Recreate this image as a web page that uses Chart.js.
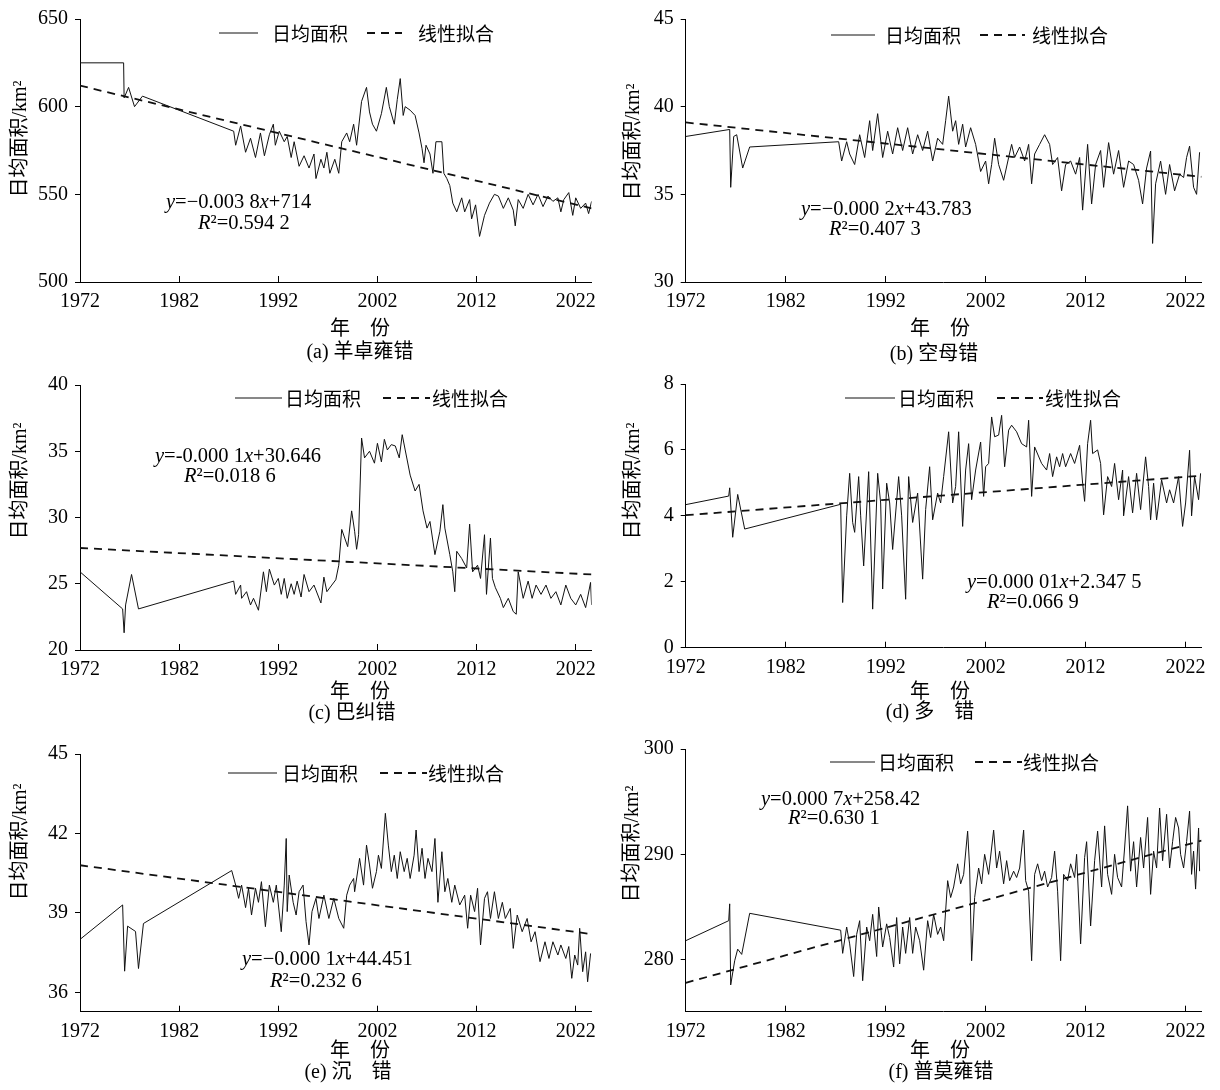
<!DOCTYPE html>
<html>
<head>
<meta charset="utf-8">
<script src="https://cdn.jsdelivr.net/npm/chart.js@4.4.1/dist/chart.umd.min.js"></script>
<style>
  body { margin: 0; background: #fff; width: 1220px; height: 1090px; position: relative; overflow: hidden; }
  canvas { position: absolute; }
</style>
</head>
<body>
<canvas id="ca" width="610" height="365" style="left:0;top:0"></canvas>
<canvas id="cb" width="610" height="365" style="left:610px;top:0"></canvas>
<canvas id="cc" width="610" height="365" style="left:0;top:365px"></canvas>
<canvas id="cd" width="610" height="365" style="left:610px;top:365px"></canvas>
<canvas id="ce" width="610" height="360" style="left:0;top:730px"></canvas>
<canvas id="cf" width="610" height="360" style="left:610px;top:730px"></canvas>
<script>
  const xTickYears = [1972, 1982, 1992, 2002, 2012, 2022]
  const fitYears = [1972, 2023.6]

  // (a) 羊卓雍错
  const yearsA = [1972.0, 1976.4, 1976.45, 1976.9, 1977.5, 1978.3, 1987.5,
    1987.7, 1988.2, 1988.7, 1989.2, 1989.7, 1990.2, 1990.6, 1991.1, 1991.5, 1991.7, 1992.1, 1992.6, 1992.9,
    1993.3, 1993.6, 1994.1, 1994.6, 1995.1, 1995.6, 1995.8, 1996.3, 1996.6, 1996.9, 1997.2, 1997.7, 1998.1,
    1998.4, 1998.9, 1999.2, 1999.6, 1999.9, 2000.4, 2000.9, 2001.2, 2001.5, 2001.9, 2002.4, 2002.9, 2003.2,
    2003.7, 2004.0, 2004.3, 2004.6, 2004.8, 2005.3, 2005.8, 2006.2, 2006.5, 2006.7, 2006.9, 2007.3, 2007.6,
    2007.9, 2008.5, 2008.7, 2009.0, 2009.3, 2009.6, 2010.0, 2010.5, 2010.8, 2011.3, 2011.5, 2011.9, 2012.3,
    2012.8, 2013.3, 2013.8, 2014.2, 2014.7, 2015.2, 2015.7, 2015.9, 2016.2, 2016.7, 2017.2, 2017.7, 2018.2,
    2018.7, 2019.2, 2019.7, 2020.2, 2020.5, 2020.8, 2021.3, 2021.7, 2022.0, 2022.5, 2023.0, 2023.3, 2023.6]
  const areaA = [625, 625, 605, 611, 600, 606, 586,
    578, 589, 574, 582, 571, 585, 572, 584, 590, 578, 586, 580, 583,
    571, 580, 566, 572, 565, 573, 559, 570, 565, 574, 562, 570, 562,
    580, 585, 580, 590, 578, 603, 611, 597, 590, 586, 596, 611, 600,
    590, 604, 616, 595, 600, 598, 595, 585, 576, 568, 578, 573, 562,
    580, 580, 562, 559, 555, 545, 540, 548, 540, 547, 536, 544, 526,
    538, 545, 550, 549, 542, 548, 541, 532, 547, 542, 550, 544, 550,
    543, 549, 546, 548, 540, 547, 551, 538, 548, 542, 545, 539, 546]
  const fitA = [612, 542]
  const yTicksA = [500, 550, 600, 650]

  // (b) 空母错
  const yearsB = [1972.0, 1976.4, 1976.5, 1976.8, 1977.1, 1977.7, 1978.4, 1987.3,
    1987.6, 1988.1, 1988.4, 1988.9, 1989.4, 1989.9, 1990.4, 1990.7, 1991.2, 1991.7, 1992.2, 1992.7, 1993.2,
    1993.7, 1994.2, 1994.7, 1995.2, 1995.7, 1996.2, 1996.7, 1997.2, 1997.7, 1998.0, 1998.3, 1998.7, 1999.0,
    1999.3, 1999.7, 2000.0, 2000.5, 2001.0, 2001.5, 2002.0, 2002.3, 2002.6, 2002.9, 2003.3, 2003.8, 2004.3,
    2004.6, 2004.9, 2005.4, 2005.9, 2006.3, 2006.6, 2006.9, 2007.4, 2007.9, 2008.4, 2008.7, 2009.2, 2009.6,
    2010.0, 2010.5, 2011.0, 2011.4, 2011.7, 2012.2, 2012.6, 2013.0, 2013.5, 2013.8, 2014.3, 2014.8, 2015.3,
    2015.8, 2016.3, 2016.8, 2017.3, 2017.7, 2018.1, 2018.5, 2018.7, 2019.0, 2019.5, 2020.0, 2020.4, 2020.9,
    2021.4, 2021.8, 2022.1, 2022.4, 2022.8, 2023.1, 2023.4]
  const areaB = [38.3, 38.7, 35.4, 38.3, 38.4, 36.5, 37.7, 38.0,
    36.9, 38.0, 37.3, 36.7, 38.4, 37.1, 39.2, 37.5, 39.6, 37.1, 38.6, 37.3, 38.8,
    37.5, 38.8, 37.3, 38.4, 37.5, 38.6, 36.9, 38.2, 37.85, 39.2, 40.6, 38.6, 39.2,
    37.85, 39.0, 37.7, 38.8, 37.85, 36.3, 36.9, 35.6, 36.7, 38.2, 36.7, 35.8, 37.1,
    37.85, 37.1, 37.7, 36.9, 37.85, 35.6, 37.3, 37.85, 38.4, 37.85, 36.7, 37.1, 35.2,
    36.7, 36.9, 36.15, 37.1, 34.1, 37.85, 34.45, 36.7, 37.5, 35.4, 37.95, 36.15, 37.5,
    35.4, 36.9, 36.7, 35.8, 34.45, 36.5, 37.47, 32.2, 35.6, 36.9, 35.0, 36.7, 35.2,
    36.15, 35.96, 37.1, 37.75, 35.4, 35.0, 37.4]
  const fitB = [39.1, 36.0]
  const yTicksB = [30, 35, 40, 45]

  // (c) 巴纠错
  const yearsC = [1972.0, 1976.3, 1976.45, 1976.6, 1977.2, 1977.9, 1987.5,
    1987.7, 1988.2, 1988.3, 1988.8, 1989.2, 1989.5, 1990.0, 1990.5, 1990.8, 1991.1, 1991.6, 1992.0, 1992.3,
    1992.6, 1992.9, 1993.3, 1993.6, 1993.9, 1994.3, 1994.6, 1995.1, 1995.6, 1996.3, 1996.6, 1996.9, 1997.4,
    1997.8, 1998.1, 1998.4, 1998.7, 1999.0, 1999.4, 1999.7, 1999.9, 2000.1, 2000.4, 2000.7, 2001.2, 2001.7,
    2002.0, 2002.4, 2002.7, 2003.0, 2003.4, 2003.8, 2004.2, 2004.5, 2004.8, 2005.3, 2005.8, 2006.2, 2006.6,
    2007.0, 2007.3, 2007.8, 2008.3, 2008.6, 2008.8, 2009.3, 2009.6, 2009.8, 2010.0, 2010.5, 2011.0, 2011.3,
    2011.6, 2012.1, 2012.4, 2012.8, 2013.0, 2013.4, 2013.6, 2013.9, 2014.4, 2014.7, 2015.2, 2015.7, 2016.0,
    2016.2, 2016.7, 2017.2, 2017.6, 2018.0, 2018.5, 2019.0, 2019.5, 2020.0, 2020.5, 2021.0, 2021.5, 2022.0,
    2022.5, 2023.0, 2023.5, 2023.6]
  const areaC = [25.9, 23.1, 21.3, 23.4, 25.7, 23.1, 25.2,
    24.2, 24.9, 23.9, 24.4, 23.4, 23.9, 23.0, 25.9, 24.4, 26.1, 24.9, 25.4, 24.2,
    25.4, 23.9, 25.0, 24.2, 25.2, 24.0, 25.7, 24.4, 24.9, 23.55, 25.5, 24.4, 24.9,
    25.3, 26.4, 29.1, 28.45, 27.8, 30.5, 28.96, 27.6, 28.7, 36.0, 34.5, 35.0, 34.1,
    35.6, 34.2, 35.9, 35.1, 35.5, 35.4, 34.5, 36.25, 35.1, 33.2, 32.0, 32.5, 30.5,
    29.2, 29.7, 27.2, 28.96, 30.97, 29.2, 27.2, 25.9, 24.4, 27.45, 26.9, 26.2, 29.5,
    25.9, 26.4, 25.4, 28.7, 24.2, 28.45, 25.4, 24.7, 23.9, 23.2, 23.9, 22.9, 22.7,
    25.9, 23.9, 25.2, 23.9, 24.9, 24.2, 24.9, 23.9, 24.4, 23.4, 24.9, 23.9, 23.4,
    24.2, 23.2, 25.1, 23.4]
  const fitC = [27.7, 25.7]
  const yTicksC = [20, 25, 30, 35, 40]

  // (d) 多错
  const yearsD = [1972.0, 1976.3, 1976.4, 1976.7, 1977.2, 1977.9, 1987.5,
    1987.7, 1988.1, 1988.4, 1988.7, 1988.9, 1989.3, 1989.5, 1989.8, 1990.3, 1990.7, 1991.2, 1991.5, 1991.7,
    1992.1, 1992.4, 1992.7, 1993.3, 1993.6, 1994.0, 1994.3, 1994.7, 1995.2, 1995.7, 1996.0, 1996.4, 1996.7,
    1997.2, 1997.5, 1997.8, 1998.3, 1998.7, 1999.0, 1999.3, 1999.7, 2000.0, 2000.3, 2000.6, 2001.0, 2001.5,
    2001.8, 2002.0, 2002.3, 2002.6, 2002.9, 2003.3, 2003.6, 2003.9, 2004.3, 2004.6, 2005.1, 2005.6, 2006.1,
    2006.3, 2006.6, 2006.9, 2007.6, 2008.1, 2008.4, 2008.7, 2009.1, 2009.4, 2009.7, 2010.0, 2010.5, 2010.9,
    2011.4, 2011.7, 2011.9, 2012.2, 2012.5, 2012.7, 2013.2, 2013.5, 2013.8, 2014.2, 2014.6, 2014.9, 2015.3,
    2015.7, 2015.8, 2016.3, 2016.7, 2017.1, 2017.5, 2018.0, 2018.3, 2018.5, 2018.8, 2019.1, 2019.6, 2020.1,
    2020.4, 2020.8, 2021.3, 2021.7, 2022.0, 2022.4, 2022.6, 2022.9, 2023.3, 2023.5]
  const areaD = [4.34, 4.6, 4.85, 3.35, 4.65, 3.6, 4.35,
    1.37, 4.0, 5.29, 3.8, 3.5, 5.19, 4.0, 2.48, 5.34, 1.17, 5.29, 4.39, 1.78,
    4.99, 4.39, 2.98, 5.19, 4.0, 1.47, 5.19, 3.8, 4.69, 2.08, 4.19, 5.49, 3.88,
    4.69, 4.39, 5.19, 6.55, 4.39, 4.89, 6.55, 3.68, 5.39, 6.19, 4.49, 5.39, 6.24,
    4.59, 5.49, 5.59, 7.0, 6.4, 6.45, 7.05, 5.49, 6.6, 6.75, 6.55, 6.19, 6.09,
    6.9, 4.59, 6.09, 5.59, 5.39, 5.89, 5.19, 5.79, 5.49, 5.89, 5.49, 5.89, 5.59,
    6.14, 4.99, 4.44, 6.19, 6.9, 5.89, 6.0, 5.59, 4.03, 5.19, 4.89, 5.59, 4.49,
    5.39, 4.0, 5.19, 4.09, 5.29, 4.19, 5.79, 4.89, 3.88, 4.99, 3.88, 5.09, 4.39,
    4.79, 4.39, 5.19, 3.68, 4.39, 5.99, 4.0, 5.19, 4.49, 5.29]
  const fitD = [4.02, 5.22]
  const yTicksD = [0, 2, 4, 6, 8]

  // (e) 沉错
  const yearsE = [1972.0, 1976.3, 1976.5, 1976.8, 1977.6, 1977.9, 1978.4, 1987.3,
    1987.7, 1988.0, 1988.3, 1988.7, 1989.0, 1989.3, 1989.7, 1990.0, 1990.3, 1990.7, 1991.1, 1991.5, 1991.8,
    1992.3, 1992.6, 1992.8, 1992.9, 1993.1, 1993.5, 1993.8, 1994.1, 1994.5, 1994.8, 1995.1, 1995.4, 1995.8,
    1996.1, 1996.6, 1997.1, 1997.6, 1998.1, 1998.6, 1998.9, 1999.2, 1999.6, 1999.7, 2000.2, 2000.6, 2000.9,
    2001.2, 2001.5, 2001.9, 2002.1, 2002.4, 2002.8, 2003.1, 2003.4, 2003.7, 2004.0, 2004.3, 2004.7, 2005.0,
    2005.3, 2005.7, 2005.9, 2006.2, 2006.5, 2006.8, 2007.1, 2007.5, 2007.8, 2008.1, 2008.5, 2008.8, 2009.1,
    2009.5, 2009.8, 2010.3, 2010.8, 2011.1, 2011.4, 2011.8, 2012.1, 2012.4, 2012.8, 2013.1, 2013.4, 2013.8,
    2014.2, 2014.6, 2014.9, 2015.4, 2015.7, 2016.1, 2016.6, 2017.1, 2017.5, 2017.9, 2018.4, 2018.9, 2019.3,
    2019.7, 2020.2, 2020.5, 2021.0, 2021.3, 2021.6, 2021.9, 2022.2, 2022.4, 2022.7, 2023.0, 2023.2, 2023.5]
  const areaE = [38.0, 39.3, 36.8, 38.5, 38.3, 36.9, 38.6, 40.6,
    40.05, 39.55, 40.05, 39.2, 39.93, 38.92, 39.93, 39.4, 40.18, 38.48, 40.05, 39.4, 40.05,
    38.29, 40.05, 41.81, 39.05, 40.43, 39.4, 38.92, 39.8, 40.05, 38.67, 37.79, 39.05, 39.55,
    38.79, 39.67, 38.79, 39.55, 38.79, 38.42, 39.67, 40.05, 40.3, 39.8, 41.06, 40.05, 41.56,
    40.81, 39.93, 40.56, 41.18, 40.68, 42.76, 41.56, 40.56, 41.18, 40.3, 41.31, 40.56, 41.06,
    40.3, 41.18, 42.13, 40.56, 41.44, 40.3, 41.06, 40.56, 41.81, 39.4, 41.31, 39.8, 40.3,
    39.4, 40.05, 39.3, 39.67, 38.42, 39.67, 39.05, 39.93, 37.79, 39.55, 39.8, 38.79, 39.8,
    38.79, 39.4, 38.79, 39.17, 37.66, 38.92, 38.29, 38.79, 37.91, 38.29, 37.16, 37.91, 37.28,
    37.91, 37.41, 37.79, 37.28, 37.73, 36.53, 37.41, 37.03, 38.42, 36.78, 37.53, 36.4, 37.47]
  const fitE = [40.8, 38.2]
  const yTicksE = [36, 39, 42, 45]

  // (f) 普莫雍错
  const yearsF = [1972.0, 1976.3, 1976.4, 1976.5, 1976.9, 1977.2, 1977.6, 1978.4, 1987.5,
    1987.7, 1988.1, 1988.4, 1988.8, 1989.1, 1989.4, 1989.7, 1990.1, 1990.4, 1990.7, 1991.1, 1991.3, 1991.7,
    1992.1, 1992.4, 1992.8, 1993.1, 1993.4, 1993.7, 1994.0, 1994.4, 1994.7, 1995.0, 1995.4, 1995.8, 1996.2,
    1996.5, 1996.8, 1997.2, 1997.5, 1997.8, 1998.2, 1998.5, 1998.8, 1999.2, 1999.5, 1999.8, 2000.2, 2000.4,
    2000.6, 2000.9, 2001.3, 2001.6, 2001.9, 2002.3, 2002.8, 2003.1, 2003.4, 2003.8, 2004.1, 2004.4, 2004.8,
    2005.1, 2005.4, 2005.8, 2006.0, 2006.3, 2006.6, 2006.9, 2007.2, 2007.6, 2007.9, 2008.2, 2008.6, 2008.9,
    2009.2, 2009.5, 2009.8, 2010.2, 2010.5, 2010.9, 2011.1, 2011.5, 2011.9, 2012.1, 2012.5, 2012.9, 2013.2,
    2013.6, 2013.9, 2014.2, 2014.6, 2014.9, 2015.2, 2015.6, 2015.9, 2016.2, 2016.5, 2016.8, 2017.1, 2017.5,
    2017.8, 2018.2, 2018.5, 2018.8, 2019.1, 2019.4, 2019.7, 2020.1, 2020.4, 2020.7, 2021.0, 2021.3, 2021.5,
    2021.8, 2022.1, 2022.4, 2022.6, 2022.8, 2023.0, 2023.3, 2023.4]
  const areaF = [281.8, 283.7, 285.3, 277.6, 279.9, 281.0, 280.5, 284.4, 282.8,
    280.6, 283.1, 281.5, 278.4, 282.4, 283.7, 278.0, 283.1, 281.8, 284.3, 280.3, 285.0, 281.2,
    283.4, 282.1, 279.3, 284.0, 279.6, 283.1, 280.6, 284.0, 280.6, 283.1, 281.8, 279.0, 283.7,
    282.1, 284.3, 282.4, 283.1, 281.8, 287.5, 285.9, 286.9, 289.1, 287.2, 288.1, 292.2, 288.7,
    279.9, 285.9, 288.7, 287.2, 290.0, 288.1, 292.3, 288.7, 290.3, 287.2, 289.4, 287.5, 288.4,
    287.8, 288.7, 292.3, 287.5, 286.5, 279.9, 288.1, 289.1, 287.5, 288.4, 286.9, 287.8, 290.3,
    286.5, 279.9, 288.1, 287.5, 289.1, 287.8, 290.0, 281.5, 289.7, 291.2, 283.2, 289.4, 292.2,
    286.9, 292.7, 288.1, 286.2, 290.0, 287.8, 286.9, 290.6, 294.6, 288.4, 291.2, 286.9, 291.6,
    288.7, 293.5, 286.2, 290.3, 288.7, 294.4, 289.4, 293.8, 288.7, 291.2, 293.5, 292.5, 290.0,
    288.7, 291.2, 294.1, 288.1, 290.3, 286.7, 292.5, 288.4]
  const fitF = [277.8, 291.3]
  const yTicksF = [280, 290, 300]

  const serif = '"Liberation Serif", "Noto Sans CJK SC", serif'

  const panels = [
    { id: 'ca', w: 610, h: 365, years: yearsA, area: areaA, fit: fitA, yMin: 500, yMax: 650, yTicks: yTicksA,
      plot: [80, 17.3, 601, 282], legend: { y: 33, items: [[219, 258, 272], [367, 402, 418]] },
      eq: [[166, 203, [['y', 1], ['=−0.003 8', 0], ['x', 1], ['+714', 0]]], [198, 224, [['R', 1], ['²=0.594 2', 0]]]],
      yTitle: [21, 139], xTitle: [360, 330], caption: [360, 353, '(a) 羊卓雍错'] },
    { id: 'cb', w: 610, h: 365, years: yearsB, area: areaB, fit: fitB, yMin: 30, yMax: 45, yTicks: yTicksB,
      plot: [75.7, 17.3, 596.9, 282], legend: { y: 35, items: [[221, 265, 275], [370, 415, 422]] },
      eq: [[191, 210, [['y', 1], ['=−0.000 2', 0], ['x', 1], ['+43.783', 0]]], [219, 230, [['R', 1], ['²=0.407 3', 0]]]],
      yTitle: [24, 142], xTitle: [330, 330], caption: [324, 355, '(b) 空母错'] },
    { id: 'cc', w: 610, h: 365, years: yearsC, area: areaC, fit: fitC, yMin: 20, yMax: 40, yTicks: yTicksC,
      plot: [80, 20, 601, 285], legend: { y: 33, items: [[235, 282, 285], [383, 430, 432]] },
      eq: [[155, 92, [['y', 1], ['=-0.000 1', 0], ['x', 1], ['+30.646', 0]]], [184, 112, [['R', 1], ['²=0.018 6', 0]]]],
      yTitle: [20.5, 116], xTitle: [360, 328], caption: [352, 349, '(c) 巴纠错'] },
    { id: 'cd', w: 610, h: 365, years: yearsD, area: areaD, fit: fitD, yMin: 0, yMax: 8, yTicks: yTicksD,
      plot: [75.7, 16.7, 596.9, 282.7], legend: { y: 33, items: [[235, 285, 288], [387, 433, 435]] },
      eq: [[357, 218, [['y', 1], ['=0.000 01', 0], ['x', 1], ['+2.347 5', 0]]], [377, 238, [['R', 1], ['²=0.066 9', 0]]]],
      yTitle: [24, 116], xTitle: [330, 328], caption: [320, 348, '(d) 多　错'] },
    { id: 'ce', w: 610, h: 360, years: yearsE, area: areaE, fit: fitE, yMin: 35.27, yMax: 45, yTicks: yTicksE,
      plot: [80, 24, 601, 281.7], legend: { y: 43, items: [[228, 277, 282], [380, 427, 428]] },
      eq: [[242, 230, [['y', 1], ['=−0.000 1', 0], ['x', 1], ['+44.451', 0]]], [270, 252, [['R', 1], ['²=0.232 6', 0]]]],
      yTitle: [20.5, 112], xTitle: [360, 322], caption: [348, 343, '(e) 沉　错'] },
    { id: 'cf', w: 610, h: 360, years: yearsF, area: areaF, fit: fitF, yMin: 275.06, yMax: 300, yTicks: yTicksF,
      plot: [75.7, 17.3, 596.9, 281.7], legend: { y: 32, items: [[220, 265, 268], [365, 412, 413]] },
      eq: [[151, 70, [['y', 1], ['=0.000 7', 0], ['x', 1], ['+258.42', 0]]], [178, 89, [['R', 1], ['²=0.630 1', 0]]]],
      yTitle: [22.5, 114], xTitle: [330, 322], caption: [331, 343, '(f) 普莫雍错'] }
  ]

  function pts(xs, ys) {
    return xs.map((x, i) => ({ x: x, y: ys[i] }))
  }

  // legend, fit equation and captions are drawn inside the plot like the paper figure
  function panelText(p) {
    return {
      id: 'panelText',
      afterDraw(chart) {
        const ctx = chart.ctx
        const ds = chart.data.datasets
        ctx.save()
        ctx.fillStyle = '#000'
        ctx.textBaseline = 'middle'
        ctx.textAlign = 'left'
        p.legend.items.forEach((it, i) => {
          const d = ds[i]
          ctx.beginPath()
          ctx.strokeStyle = d.borderColor
          ctx.lineWidth = d.borderWidth
          ctx.setLineDash(d.borderDash || [])
          ctx.moveTo(it[0], p.legend.y)
          ctx.lineTo(it[1], p.legend.y)
          ctx.stroke()
          ctx.setLineDash([])
          ctx.font = '19px "Noto Sans CJK SC"'
          ctx.fillText(d.label, it[2], p.legend.y + 1)
        })
        p.eq.forEach(line => {
          let x = line[0]
          line[2].forEach(part => {
            ctx.font = (part[1] ? 'italic ' : '') + '20.5px "Liberation Serif"'
            ctx.fillText(part[0], x, line[1])
            x += ctx.measureText(part[0]).width
          })
        })
        ctx.textAlign = 'center'
        ctx.font = '20px ' + serif
        ctx.fillText('年　份', p.xTitle[0], p.xTitle[1])
        ctx.fillText(p.caption[2], p.caption[0], p.caption[1])
        ctx.translate(p.yTitle[0], p.yTitle[1])
        ctx.rotate(-Math.PI / 2)
        ctx.fillText('日均面积/km²', 0, 0)
        ctx.restore()
      }
    }
  }

  panels.forEach(p => {
    new Chart(document.getElementById(p.id), {
      type: 'line',
      data: {
        datasets: [
          { label: '日均面积', data: pts(p.years, p.area), borderColor: '#111', borderWidth: 1,
            pointRadius: 0, tension: 0 },
          { label: '线性拟合', data: pts(fitYears, p.fit), borderColor: '#111', borderWidth: 1.8,
            borderDash: [8, 6], pointRadius: 0, tension: 0 }
        ]
      },
      options: {
        responsive: false,
        animation: false,
        events: [],
        layout: { padding: { left: 0, top: p.plot[1], right: p.w - p.plot[2], bottom: p.h - p.plot[3] - 40 } },
        plugins: { legend: { display: false }, tooltip: { enabled: false } },
        scales: {
          x: {
            type: 'linear', min: 1972, max: 2023.6,
            afterFit: s => { s.height = 40 },
            afterBuildTicks: s => { s.ticks = xTickYears.map(v => ({ value: v })) },
            border: { display: true, color: '#000', width: 1 },
            grid: { display: true, drawOnChartArea: false, drawTicks: true, tickLength: -6, color: '#000' },
            ticks: { color: '#000', font: { family: serif, size: 20 }, padding: 14, maxRotation: 0,
              autoSkip: false, callback: v => String(v) }
          },
          y: {
            min: p.yMin, max: p.yMax,
            afterFit: s => { s.width = p.plot[0] },
            afterBuildTicks: s => { s.ticks = p.yTicks.map(v => ({ value: v })) },
            border: { display: true, color: '#000', width: 1 },
            grid: { display: true, drawOnChartArea: false, drawTicks: true, tickLength: 5, color: '#000' },
            ticks: { color: '#000', font: { family: serif, size: 20 }, padding: 7, callback: v => String(v) }
          }
        }
      },
      plugins: [panelText(p)]
    })
  })
</script>
</body>
</html>
